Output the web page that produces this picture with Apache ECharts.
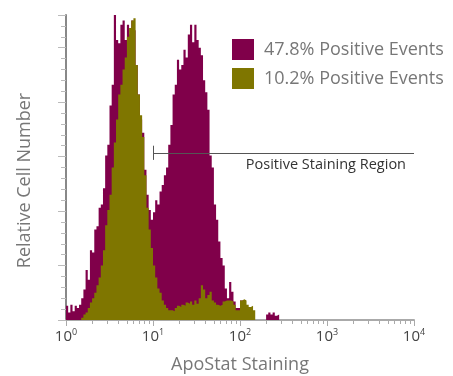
<!DOCTYPE html>
<html>
<head>
<meta charset="utf-8">
<script src="https://cdn.jsdelivr.net/npm/echarts@6/dist/echarts.min.js"></script>
<style>
  html, body { margin: 0; padding: 0; background: #fff; }
  #chart { width: 453px; height: 376px; }
</style>
</head>
<body>
<div id="chart"></div>
<script>
// histogram bins, log10 step per channel group
var binStep = 0.025;

// 47.8% Positive Events (purple)
var positiveA = [
  13, 7, 14, 8, 13, 11, 14, 20, 28, 46,
  37, 64, 62, 83, 86, 103, 106, 121, 151, 161,
  197, 216, 280, 257, 254, 271, 275, 257, 271, 262,
  275, 266, 234, 207, 184, 172, 138, 115, 101, 92,
  99, 110, 106, 118, 124, 133, 140, 161, 179, 207,
  216, 239, 230, 234, 248, 241, 262, 271, 255, 271,
  257, 250, 243, 220, 209, 193, 151, 140, 106, 92,
  72, 57, 50, 29, 20, 35, 26, 17, 11, 11,
  18, 18, 11, 7, 5, 0, 0, 0, 0, 0,
  0, 0, 5, 7, 5, 7, 4, 5, 0, 0
];

// 10.2% Positive Events (olive)
var positiveB = [
  0, 0, 0, 0, 0, 0, 0, 2, 5, 7,
  11, 16, 20, 25, 32, 39, 50, 64, 87, 101,
  115, 140, 163, 184, 207, 216, 230, 241, 260, 268,
  275, 277, 234, 207, 188, 168, 133, 103, 83, 66,
  50, 39, 29, 25, 18, 14, 11, 9, 9, 8,
  11, 13, 12, 14, 13, 16, 15, 17, 14, 18,
  15, 20, 32, 28, 20, 23, 26, 18, 16, 14,
  13, 14, 17, 18, 18, 18, 17, 14, 9, 9,
  18, 19, 18, 14, 12, 13, 9, 0, 0, 0,
  0, 0, 0, 0, 0, 0, 0, 0, 0, 0
];

var legendNames = ['47.8% Positive Events', '10.2% Positive Events'];
var colors = ['#80004a', '#7f7600'];

var decades = [1, 10, 100, 1000];
var minorSteps = [2, 3, 4, 5, 6, 7, 8, 9];
var yMinorTicks = [0,10,20,30,40,50,60,70,80,90,100,110,120,130,140,150,160,170,180,190,200,210,220,230,240,250,260,270,280];

// positive staining region marker (x from 10 to 10^4)
var regionStart = 10, regionEnd = 10000, regionLevel = 153;

var minorLog = [];
decades.forEach(function (d) {
  minorSteps.forEach(function (m) { minorLog.push(Math.log10(d * m)); });
});

function toSteps(vals) {
  var pts = vals.map(function (v, i) { return [Math.pow(10, i * binStep), v]; });
  pts.push([Math.pow(10, vals.length * binStep), 0]);
  return pts;
}

var font = '"Open Sans", sans-serif';

var chart = echarts.init(document.getElementById('chart'));
chart.setOption({
  animation: false,
  grid: { left: 66, right: 39, top: 15, bottom: 56, outerBoundsMode: 'none', containLabel: false },
  legend: {
    orient: 'vertical',
    left: 227, top: 34,
    itemWidth: 22, itemHeight: 21, itemGap: 8,
    icon: 'rect',
    selectedMode: false,
    data: legendNames,
    textStyle: { color: '#777', fontSize: 18, fontFamily: font, padding: [0, 0, 0, 5] }
  },
  xAxis: [{
    type: 'log', logBase: 10, min: 1, max: 10000,
    name: 'ApoStat Staining', nameLocation: 'middle', nameGap: 36,
    nameTextStyle: { color: '#777', fontSize: 18, fontFamily: font },
    axisLine: { lineStyle: { color: '#aaa', width: 2 } },
    axisTick: { length: 6, lineStyle: { color: '#aaa' } },
    splitLine: { show: false },
    axisLabel: {
      margin: 8,
      formatter: function (v) { return '{b|10}{s|' + Math.round(Math.log10(v)) + '}'; },
      rich: {
        b: { fontSize: 15, color: '#444', fontFamily: font },
        s: { fontSize: 9, color: '#444', fontFamily: font, padding: [0, 0, 8, 0] }
      }
    }
  }, {
    type: 'value', min: 0, max: 4, position: 'bottom',
    axisLine: { show: false },
    axisTick: { show: true, length: 4, customValues: minorLog, lineStyle: { color: '#aaa' } },
    axisLabel: { show: false },
    splitLine: { show: false }
  }],
  yAxis: [{
    type: 'value', min: 0, max: 280, interval: 10,
    name: 'Relative Cell Number', nameLocation: 'middle', nameGap: 32,
    nameTextStyle: { color: '#777', fontSize: 18, fontFamily: font, padding: [0, 26, 0, 0] },
    axisLine: { show: true, lineStyle: { color: '#888', width: 2 } },
    axisTick: { show: true, length: 5, customValues: yMinorTicks, lineStyle: { color: '#bbb' } },
    axisLabel: { show: false },
    splitLine: { show: false }
  }, {
    type: 'value', min: 0, max: 280, interval: 50, position: 'left',
    axisLine: { show: false },
    axisTick: { show: true, length: 8, lineStyle: { color: '#bbb' } },
    axisLabel: { show: false },
    splitLine: { show: false }
  }],
  series: [{
    name: legendNames[0], type: 'line', step: 'end', symbol: 'none',
    data: toSteps(positiveA),
    itemStyle: { color: colors[0] },
    lineStyle: { width: 0 },
    areaStyle: { color: colors[0], opacity: 1 },
    markLine: {
      silent: true, symbol: 'none',
      lineStyle: { color: '#555', width: 1, type: 'solid' },
      label: { show: false },
      data: [
        [{ coord: [regionStart, regionLevel], label: {
            show: true, position: 'insideEndBottom', formatter: 'Positive Staining Region',
            color: '#333', fontSize: 14.5, fontFamily: font, distance: [8, 4] } },
         { coord: [regionEnd, regionLevel] }],
        [{ coord: [regionStart, regionLevel - 6] }, { coord: [regionStart, regionLevel + 7] }]
      ]
    }
  }, {
    name: legendNames[1], type: 'line', step: 'end', symbol: 'none',
    data: toSteps(positiveB),
    itemStyle: { color: colors[1] },
    lineStyle: { width: 0 },
    areaStyle: { color: colors[1], opacity: 1 }
  }]
});
</script>
</body>
</html>
